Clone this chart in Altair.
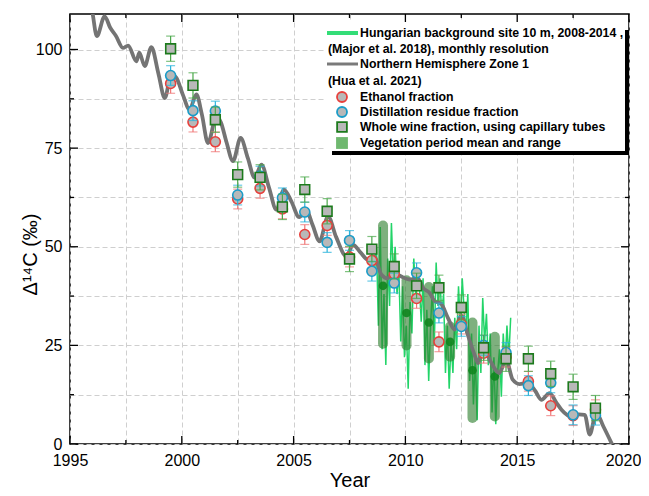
import altair as alt
import pandas as pd

# ---------------- data ----------------
# Wine vintage samples (plotted at year + 0.5)
years = [1999.5, 2000.5, 2001.5, 2002.5, 2003.5, 2004.5, 2005.5, 2006.5, 2007.5, 2008.5,
         2009.5, 2010.5, 2011.5, 2012.5, 2013.5, 2014.5, 2015.5, 2016.5, 2017.5, 2018.5]
ethanol = [91.4, 81.6, 76.6, 62.1, 64.8, 59.6, 53.1, 55.4, 47.4, 46.5,
           43.1, 36.9, 25.9, 30.4, 23.0, 22.0, 15.9, 9.7, 7.2, 8.7]
distill = [93.4, 84.5, 84.4, 63.1, 67.9, 62.4, 58.8, 51.1, 51.6, 43.8,
           40.8, 43.4, 33.2, 29.8, 25.0, 23.2, 14.8, 15.5, 7.4, 7.3]
whole = [100.2, 90.9, 82.2, 68.3, 67.6, 60.1, 64.5, 59.0, 46.9, 49.4,
         45.0, 40.1, 39.6, 34.6, 24.4, 21.6, 21.6, 17.8, 14.5, 9.1]
err_circle = 2.5
err_square = 3.2

# Northern Hemisphere Zone 1 (Hua et al. 2021)
nh_year = [1995.75, 1996.0, 1996.2, 1996.55, 1996.8, 1997.05, 1997.37, 1997.6, 1997.97, 1998.1,
           1998.34, 1998.64, 1998.95, 1999.24, 1999.53, 1999.76, 2000.05, 2000.35, 2000.65, 2000.9,
           2001.17, 2001.55, 2001.75, 2002.0, 2002.29, 2002.63, 2002.95, 2003.26, 2003.56, 2003.9,
           2004.23, 2004.57, 2004.9, 2005.25, 2005.55, 2005.85, 2006.16, 2006.54, 2006.9, 2007.36,
           2007.66, 2008.0, 2008.33, 2008.6, 2008.93, 2009.2, 2009.45, 2009.8, 2010.19, 2010.55,
           2010.8, 2011.08, 2011.3, 2011.6, 2011.9, 2012.2, 2012.5, 2012.8, 2013.1, 2013.25,
           2013.47, 2013.8, 2014.2, 2014.5, 2014.8, 2015.1, 2015.48, 2015.8, 2016.08, 2016.45,
           2016.75, 2016.98, 2017.42, 2017.75, 2018.02, 2018.24, 2018.54, 2018.85, 2019.28]
nh_val = [116, 109.5, 103.4, 108.4, 105.5, 103.5, 100.4, 101.0, 97.0, 99.2,
          95.8, 100.6, 94.0, 87.7, 93.7, 92.8, 88.5, 84.8, 88.6, 83.5,
          76.3, 83.1, 81.5, 76.5, 71.7, 77.6, 72.5, 67.5, 70.8, 65.0,
          59.4, 64.5, 61.5, 57.5, 59.5, 55.5, 51.4, 57.7, 52.5, 47.6,
          50.5, 48.5, 46.7, 47.5, 42.9, 42.0, 43.5, 42.5, 41.7, 42.0,
          39.5, 38.3, 36.3, 35.5, 32.0, 29.0, 32.6, 27.5, 22.5, 20.5,
          24.8, 21.0, 18.0, 21.4, 16.3, 15.2, 15.5, 13.5, 11.2, 12.9,
          10.5, 8.7, 7.0, 7.5, 7.4, 2.4, 7.9, 4.5, -0.5]

# Hungarian background site 10 m, monthly (Major et al. 2018), Aug 2008 - Sep 2014
hu_start_year = 2008
hu_start_month = 8
hu_val = [44, 50, 30, 55, 24,
          38, 20, 47, 35, 56, 42, 50, 38, 44, 26, 40, 22,
          30, 14, 36, 28, 47, 38, 44, 40, 31, 42, 20, 34,
          16, 30, 40, 25, 46, 35, 42, 33, 38, 18, 30, 14,
          26, 18, 32, 24, 40, 30, 42, 34, 28, 38, 16, 28,
          10, 22, 6, 30, 18, 37, 26, 33, 20, 28, 8, 22,
          5, 18, 24, 12, 28, 20, 30, 22, 32]

# Vegetation period mean and range
veg_year = [2009.0, 2010.05, 2011.05, 2012.0, 2013.0, 2014.0]
veg_mean = [40.1, 33.2, 30.8, 25.9, 18.7, 17.1]
veg_min = [25.4, 25.0, 21.7, 22.1, 6.6, 7.0]
veg_max = [55.4, 41.5, 39.8, 29.8, 30.8, 27.2]

y_major = [0, 25, 50, 75, 100]
y_minor = [12.5, 37.5, 62.5, 87.5]
x_major = [1995, 2000, 2005, 2010, 2015, 2020]
x_minor = [1997.5, 2002.5, 2007.5, 2012.5, 2017.5]

legend_labels = [
    "Hungarian background site 10 m, 2008-2014 ,",
    "(Major et al. 2018), monthly resolution",
    "Northern Hemisphere Zone 1",
    "(Hua et al. 2021)",
    "Ethanol fraction",
    "Distillation residue fraction",
    "Whole wine fraction, using capillary tubes",
    "Vegetation period mean and range",
]

# ---------------- build tables ----------------
hu_x = []
for i, v in enumerate(hu_val):
    m = hu_start_month - 1 + i
    hu_x.append(hu_start_year + m // 12 + ((m % 12) + 0.5) / 12)
hu = pd.DataFrame({"x": hu_x, "v": hu_val})
nh = pd.DataFrame({"x": nh_year, "v": nh_val})
veg = pd.DataFrame({"x": veg_year, "m": veg_mean, "lo": veg_min, "hi": veg_max})


def pts(vals, err):
    return pd.DataFrame({"x": years, "v": vals,
                         "lo": [a - err for a in vals], "hi": [a + err for a in vals]})


eth = pts(ethanol, err_circle)
dis = pts(distill, err_circle)
who = pts(whole, err_square)

W, H = 559, 430
FONT = "Liberation Sans"
xs = alt.Scale(domain=[1995, 2020], nice=False, zero=False)
ys = alt.Scale(domain=[0, 109], nice=False, zero=False)

X = alt.X("x:Q", scale=xs, title="Year",
          axis=alt.Axis(values=x_major + x_minor, grid=True, ticks=False, domain=False,
                        labelExpr="datum.value % 5 == 0 ? datum.label : ''",
                        labelFlush=False, labelOverlap=False,
                        labelOffset=alt.condition("datum.value == 2020", alt.value(-6), alt.value(0)),
                        format="d", labelFontSize=16, labelPadding=8, labelColor="black",
                        labelFont=FONT, titleFont=FONT, titleFontSize=20,
                        titleFontWeight="normal", titleColor="black", titlePadding=2,
                        gridColor="#cfcfcf", gridDash=[5, 3], gridWidth=1))
Y = alt.Y("v:Q", scale=ys, title="Δ¹⁴C (‰)",
          axis=alt.Axis(values=y_major + y_minor, grid=True, ticks=False, domain=False,
                        labelExpr="datum.value % 25 == 0 ? datum.label : ''",
                        labelFlush=False, labelOverlap=False,
                        labelFontSize=16, labelPadding=8, labelColor="black",
                        labelFont=FONT, titleFont=FONT, titleFontSize=20,
                        titleFontWeight="normal", titleColor="black",
                        titleX=-40, titleY=240, titleAngle=270, titleBaseline="middle",
                        titleAlign="center",
                        gridColor="#cfcfcf", gridDash=[5, 3], gridWidth=1))

base_grid = alt.Chart(nh).mark_line(opacity=0).encode(x=X, y=Y)

veg_bars = alt.Chart(veg).mark_rule(strokeWidth=10, strokeCap="round", color="#2f7f2f",
                                    opacity=0.62).encode(
    x=alt.X("x:Q", scale=xs), y=alt.Y("lo:Q", scale=ys), y2="hi:Q")
veg_dots = alt.Chart(veg).mark_circle(size=75, color="#10861f", opacity=0.9).encode(
    x=alt.X("x:Q", scale=xs), y=alt.Y("m:Q", scale=ys))

hu_line = alt.Chart(hu).mark_line(color="#22d468", strokeWidth=1.5, clip=True).encode(
    x=alt.X("x:Q", scale=xs), y=alt.Y("v:Q", scale=ys))
nh_line = alt.Chart(nh).mark_line(color="#747474", strokeWidth=3.8, clip=True,
                                  interpolate="monotone", strokeJoin="round").encode(
    x=alt.X("x:Q", scale=xs), y=alt.Y("v:Q", scale=ys))


def series(df, ecol, mcol, shape, size):
    r = alt.Chart(df).mark_rule(color=ecol, strokeWidth=1.2).encode(
        x=alt.X("x:Q", scale=xs), y=alt.Y("lo:Q", scale=ys), y2="hi:Q")
    t1 = alt.Chart(df).mark_tick(color=ecol, thickness=1.2, size=9, orient="horizontal").encode(
        x=alt.X("x:Q", scale=xs), y=alt.Y("lo:Q", scale=ys))
    t2 = alt.Chart(df).mark_tick(color=ecol, thickness=1.2, size=9, orient="horizontal").encode(
        x=alt.X("x:Q", scale=xs), y=alt.Y("hi:Q", scale=ys))
    p = alt.Chart(df).mark_point(shape=shape, size=size, filled=True, fill="#b8b8b8",
                                 stroke=mcol, strokeWidth=1.6, opacity=1).encode(
        x=alt.X("x:Q", scale=xs), y=alt.Y("v:Q", scale=ys))
    return [r, t1, t2, p]


layers_e = series(eth, "#f07878", "#e8403c", "circle", 100)
layers_d = series(dis, "#2ab4dc", "#1a9cc8", "circle", 100)
layers_w = series(who, "#4aa84a", "#1c7a1c", "square", 95)

# inward ticks on all four sides
ymaj = pd.DataFrame({"v": y_major})
ymin = pd.DataFrame({"v": y_minor})
xmaj = pd.DataFrame({"x": x_major})
xmin = pd.DataFrame({"x": x_minor})
ticks = []
for df, ln in ((ymaj, 8), (ymin, 4)):
    ticks.append(alt.Chart(df).mark_rule(color="black", strokeWidth=1.3).encode(
        y=alt.Y("v:Q", scale=ys), x=alt.value(0), x2=alt.value(ln)))
    ticks.append(alt.Chart(df).mark_rule(color="black", strokeWidth=1.3).encode(
        y=alt.Y("v:Q", scale=ys), x=alt.value(W - ln), x2=alt.value(W)))
for df, ln in ((xmaj, 8), (xmin, 4)):
    ticks.append(alt.Chart(df).mark_rule(color="black", strokeWidth=1.3).encode(
        x=alt.X("x:Q", scale=xs), y=alt.value(H), y2=alt.value(H - ln)))
    ticks.append(alt.Chart(df).mark_rule(color="black", strokeWidth=1.3).encode(
        x=alt.X("x:Q", scale=xs), y=alt.value(0), y2=alt.value(ln)))

# legend (drawn inside plot)
one = pd.DataFrame({"a": [0]})
leg = []
leg.append(alt.Chart(one).mark_rect(color="white").encode(
    x=alt.value(255), x2=alt.value(555), y=alt.value(8), y2=alt.value(137)))
leg.append(alt.Chart(one).mark_rect(color="black").encode(
    x=alt.value(555), x2=alt.value(559), y=alt.value(16), y2=alt.value(141)))
leg.append(alt.Chart(one).mark_rect(color="black").encode(
    x=alt.value(262), x2=alt.value(559), y=alt.value(137), y2=alt.value(141)))
leg.append(alt.Chart(one).mark_rule(color="#33dd77", strokeWidth=4).encode(
    x=alt.value(257), x2=alt.value(288), y=alt.value(19)))
leg.append(alt.Chart(one).mark_rule(color="#7a7a7a", strokeWidth=3).encode(
    x=alt.value(257), x2=alt.value(288), y=alt.value(50)))
leg.append(alt.Chart(one).mark_point(shape="circle", size=100, filled=True, fill="#b8b8b8",
                                     stroke="#e8403c", strokeWidth=1.8, opacity=1).encode(
    x=alt.value(272), y=alt.value(83)))
leg.append(alt.Chart(one).mark_point(shape="circle", size=100, filled=True, fill="#b8b8b8",
                                     stroke="#1a9cc8", strokeWidth=1.8, opacity=1).encode(
    x=alt.value(272), y=alt.value(98)))
leg.append(alt.Chart(one).mark_point(shape="square", size=95, filled=True, fill="#b8b8b8",
                                     stroke="#1c7a1c", strokeWidth=1.8, opacity=1).encode(
    x=alt.value(272), y=alt.value(113)))
leg.append(alt.Chart(one).mark_square(size=140, color="#6fb86f", opacity=1).encode(
    x=alt.value(272), y=alt.value(129)))
text_pos = [(290, 19), (258, 35), (290, 50), (258, 67), (290, 83), (290, 98), (290, 113), (290, 129)]
for lab, (tx, ty) in zip(legend_labels, text_pos):
    leg.append(alt.Chart(pd.DataFrame({"t": [lab]})).mark_text(
        align="left", baseline="middle", font=FONT, fontSize=12.3, fontWeight="bold",
        color="black").encode(x=alt.value(tx), y=alt.value(ty), text="t:N"))

chart = alt.layer(
    base_grid, hu_line, veg_bars, veg_dots, nh_line,
    *layers_e, *layers_d, *layers_w, *ticks, *leg
).properties(
    width=W, height=H,
    autosize=alt.AutoSizeParams(type="none"),
    padding={"left": 62, "top": 6, "right": 12, "bottom": 48},
).configure_view(stroke="black", strokeWidth=1.5)

chart.save("out.html", embed_options={"renderer": "svg", "actions": False})
